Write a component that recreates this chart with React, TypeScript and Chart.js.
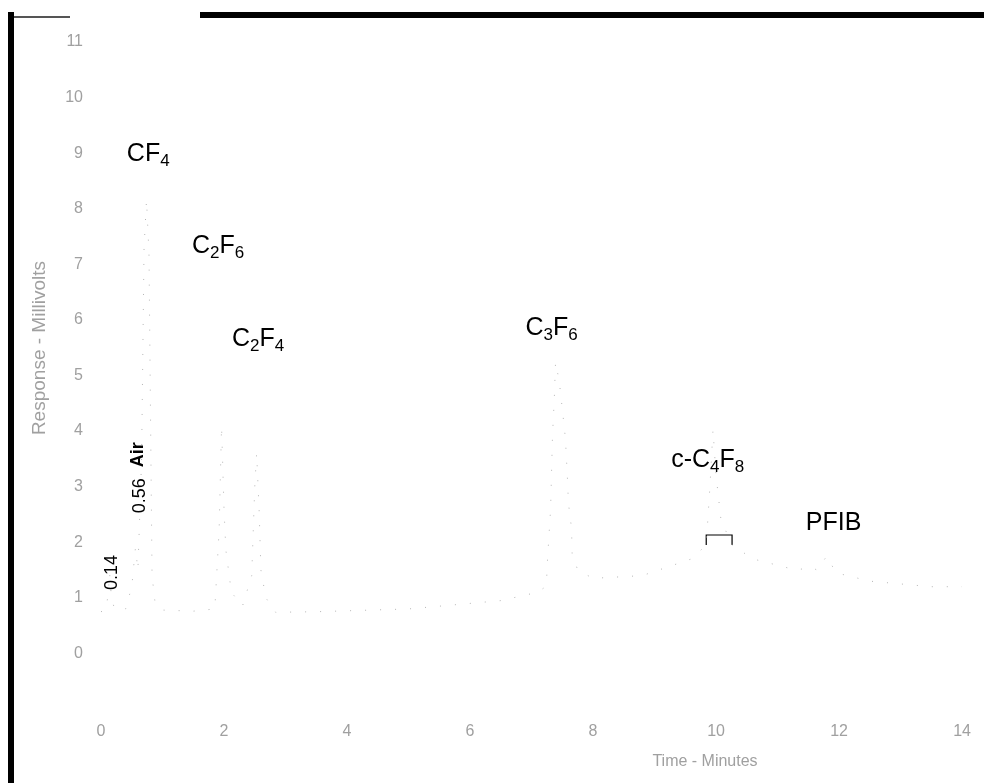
import React, { useEffect, useRef } from "react";
import { Chart, registerables } from "chart.js";

Chart.register(...registerables);

// Chromatogram trace (Time - Minutes, Response - Millivolts)
const traceTimes = [
  0.0, 0.08, 0.12, 0.14, 0.17, 0.22, 0.4, 0.5, 0.56, 0.6, 0.66, 0.7, 0.74, 0.78, 0.83, 0.88, 1.0, 1.5,
  1.85, 1.92, 1.96, 2.0, 2.03, 2.12, 2.3, 2.45, 2.5, 2.53, 2.57, 2.6, 2.68, 2.84, 3.5, 5.0, 6.5, 7.1,
  7.24, 7.26, 7.31, 7.34, 7.37, 7.39, 7.45, 7.5, 7.55, 7.58, 7.6, 7.65, 7.66, 7.75, 8.0, 8.8, 9.6,
  9.84, 9.9, 9.95, 10.0, 10.08, 10.26, 10.6, 11.3, 11.55, 11.64, 11.8, 11.95, 12.5, 13.5, 14.0,
];
const traceValues = [
  0.75, 0.78, 1.1, 1.45, 1.0, 0.8, 0.8, 1.2, 1.9, 1.5, 3.5, 7.3, 8.16, 7.2, 1.4, 0.9, 0.78, 0.76,
  0.8, 2.2, 4.09, 2.6, 1.86, 1.1, 0.85, 1.4, 3.0, 3.6, 2.6, 1.5, 1.0, 0.74, 0.75, 0.8, 0.95, 1.1,
  1.21, 1.7, 2.6, 3.9, 4.59, 5.24, 4.9, 4.4, 3.87, 3.24, 2.7, 2.25, 1.8, 1.5, 1.35, 1.4, 1.7,
  1.95, 3.0, 4.02, 3.2, 2.4, 1.95, 1.7, 1.5, 1.55, 1.5, 1.75, 1.45, 1.3, 1.2, 1.2,
];

// Integration bracket under the c-C4F8 peak
const bracketTimes = [9.84, 9.84, 10.26, 10.26];
const bracketValues = [1.95, 2.13, 2.13, 1.95];

// Axis ticks
const xTicks = [0, 2, 4, 6, 8, 10, 12, 14];
const yTicks = [0, 1, 2, 3, 4, 5, 6, 7, 8, 9, 10, 11];

// Peak labels ("_" marks a subscript digit), anchored at (time, response)
const peakNames = ["CF_4", "C_2F_6", "C_2F_4", "C_3F_6", "c-C_4F_8", "PFIB"];
const peakLabelTimes = [0.42, 1.48, 2.13, 6.9, 9.27, 11.46];
const peakLabelValues = [8.86, 7.21, 5.53, 5.73, 3.35, 2.22];

// Rotated retention-time labels
const rtLabels = ["0.14", "0.56", "Air"];
const rtLabelTimes = [0.26, 0.71, 0.68];
const rtLabelValues = [1.14, 2.52, 3.35];

const xTitle = "Time - Minutes";
const yTitle = "Response - Millivolts";

const FAMILY = '"Liberation Sans", Arial, Helvetica, sans-serif';

function drawRich(ctx: CanvasRenderingContext2D, text: string, x: number, y: number) {
  let cx = x;
  for (let i = 0; i < text.length; i++) {
    const ch = text[i];
    if (ch === "_" && i + 1 < text.length) {
      const sub = text[i + 1];
      ctx.font = `17px ${FAMILY}`;
      ctx.fillText(sub, cx, y + 5);
      cx += ctx.measureText(sub).width;
      i++;
    } else {
      ctx.font = `25px ${FAMILY}`;
      ctx.fillText(ch, cx, y);
      cx += ctx.measureText(ch).width;
    }
  }
}

const annotPlugin = {
  id: "annot",
  afterDatasetsDraw(chart: any) {
    const { ctx, scales, chartArea } = chart;
    const xs = scales.x;
    const ys = scales.y;
    ctx.save();
    ctx.fillStyle = "#000";
    ctx.textAlign = "left";
    ctx.textBaseline = "alphabetic";
    peakNames.forEach((name, i) => {
      drawRich(ctx, name, xs.getPixelForValue(peakLabelTimes[i]), ys.getPixelForValue(peakLabelValues[i]));
    });
    rtLabels.forEach((t, i) => {
      ctx.save();
      ctx.translate(xs.getPixelForValue(rtLabelTimes[i]), ys.getPixelForValue(rtLabelValues[i]));
      ctx.rotate(-Math.PI / 2);
      ctx.font = `${i === 2 ? "bold " : ""}18px ${FAMILY}`;
      ctx.textAlign = "left";
      ctx.textBaseline = "alphabetic";
      ctx.fillText(t, 0, 0);
      ctx.restore();
    });
    // axis titles
    ctx.fillStyle = "#a0a0a0";
    ctx.font = `16px ${FAMILY}`;
    ctx.textAlign = "center";
    ctx.textBaseline = "middle";
    ctx.fillText(xTitle, chartArea.left + 604, chartArea.bottom + 53);
    ctx.save();
    ctx.translate(chartArea.left - 61, chartArea.top + 306);
    ctx.rotate(-Math.PI / 2);
    ctx.font = `19px ${FAMILY}`;
    ctx.fillText(yTitle, 0, 0);
    ctx.restore();
    ctx.restore();
  },
};

export default function App() {
  const ref = useRef<HTMLCanvasElement | null>(null);

  useEffect(() => {
    if (!ref.current) return;
    const chart = new Chart(ref.current, {
      type: "scatter",
      data: {
        datasets: [
          {
            label: "Response",
            data: traceTimes.map((t, i) => ({ x: t, y: traceValues[i] })),
            showLine: true,
            borderColor: "#b4b4b4",
            borderWidth: 1,
            borderDash: [1, 14],
            pointRadius: 0,
            tension: 0,
          },
          {
            label: "Bracket",
            data: bracketTimes.map((t, i) => ({ x: t, y: bracketValues[i] })),
            showLine: true,
            borderColor: "#000",
            borderWidth: 1.2,
            pointRadius: 0,
            tension: 0,
          },
        ],
      },
      options: {
        animation: false,
        responsive: false,
        devicePixelRatio: 1,
        layout: { padding: { top: 42, right: 20, left: 0, bottom: 0 } },
        plugins: { legend: { display: false }, tooltip: { enabled: false }, title: { display: false } },
        scales: {
          x: {
            type: "linear",
            min: 0,
            max: 14,
            grid: { display: false, drawTicks: false },
            border: { display: false },
            afterBuildTicks: (s: any) => {
              s.ticks = xTicks.map((v) => ({ value: v }));
            },
            afterFit: (s: any) => {
              s.height = 74;
            },
            ticks: {
              padding: 13,
              color: "#a0a0a0",
              font: { size: 16, family: FAMILY },
              maxRotation: 0,
              autoSkip: false,
            },
          },
          y: {
            type: "linear",
            min: -1,
            max: 11,
            grid: { display: false, drawTicks: false },
            border: { display: false },
            afterBuildTicks: (s: any) => {
              s.ticks = yTicks.map((v) => ({ value: v }));
            },
            afterFit: (s: any) => {
              s.width = 101;
            },
            ticks: {
              padding: 18,
              color: "#a0a0a0",
              font: { size: 16, family: FAMILY },
              autoSkip: false,
            },
          },
        },
      },
      plugins: [annotPlugin],
    });
    return () => chart.destroy();
  }, []);

  return (
    <div style={{ position: "absolute", left: 0, top: 0, width: 984, height: 783, background: "#fff", overflow: "hidden" }}>
      <canvas ref={ref} width={984} height={783} style={{ display: "block", width: 984, height: 783 }} />
      <div style={{ position: "absolute", left: 8, top: 12, width: 6, height: 771, background: "#000" }} />
      <div style={{ position: "absolute", left: 200, top: 12, width: 784, height: 6, background: "#000" }} />
      <div style={{ position: "absolute", left: 14, top: 16, width: 56, height: 2, background: "#555" }} />
    </div>
  );
}
